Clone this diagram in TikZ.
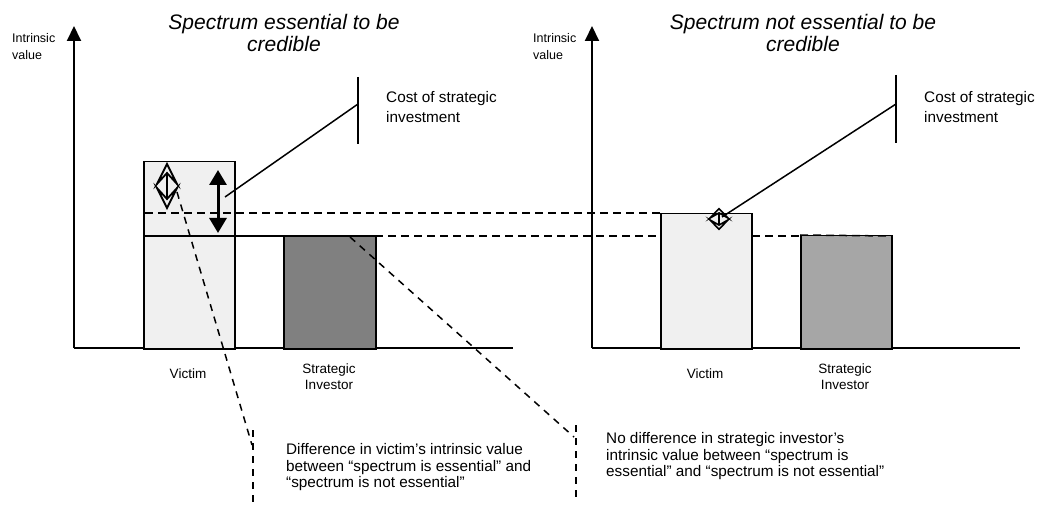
\documentclass[tikz,border=0pt]{standalone}
\usepackage{fontspec}
\setmainfont{Liberation Sans}
\usetikzlibrary{arrows.meta}
\definecolor{lightbar}{HTML}{F0F0F0}
\definecolor{darkbar}{HTML}{808080}
\definecolor{midbar}{HTML}{A6A6A6}
\begin{document}
\begin{tikzpicture}[x=1pt,y=-1pt,
  axisline/.style={line width=2pt,-{Triangle[length=15pt,width=14pt]}},
  barbox/.style={draw=black,line width=1.5pt},
  dashline/.style={line width=1.5pt,dash pattern=on 8pt off 5pt},
  notedash/.style={line width=1.5pt,dash pattern=on 7pt off 6pt},
  leader/.style={line width=1.5pt},
  openarrow/.style={line width=1.8pt,line join=miter},
  body/.style={inner sep=0pt,align=left,font=\fontsize{15.3}{16.5}\selectfont},
  costtext/.style={inner sep=0pt,align=left,font=\fontsize{15.3}{20}\selectfont},
  titletext/.style={inner sep=0pt,align=center,font=\fontsize{21}{22}\selectfont\itshape},
  axlabel/.style={inner sep=0pt,align=center,font=\fontsize{13.5}{16}\selectfont},
  ylabel/.style={inner sep=0pt,align=left,font=\fontsize{12.5}{17}\selectfont}
]
\useasboundingbox (0,0) rectangle (1042,505);
% ---------- left panel ----------
\coordinate (LO) at (74,348);
\coordinate (LT) at (74,26);
\coordinate (LX) at (513,348);
\draw[line width=2pt] (LO) -- (LX);
\draw[axisline] (LO) -- (LT);
\node[ylabel,anchor=north west] (lyl) at (12,33.5) {Intrinsic\\value};
\node[titletext,anchor=north] (ltitle) at (284,14.3) {Spectrum essential to be\\credible};
\node[barbox,fill=lightbar,minimum width=91pt,minimum height=187pt,anchor=north west,inner sep=0pt] (lvic) at (143,161) {};
\node[barbox,fill=darkbar,minimum width=92pt,minimum height=112pt,anchor=north west,inner sep=0pt] (lstr) at (283,236) {};
\coordinate (lsolidA) at (143,236);
\draw[line width=1.5pt] (lsolidA) -- (lstr.north east);
\coordinate (dA1) at (145,213);
\coordinate (dA2) at (660,213);
\draw[dashline] (dA1) -- (dA2);
\coordinate (dB1) at (375,236);
\coordinate (dB2) at (891,236);
\draw[dashline] (dB1) -- (dB2);
% open double arrow (outlined chevron heads)
\begin{scope}[shift={(167,186)}]
  \draw[openarrow] (0,-13) -- (10,-2) -- (0,-22) -- (-10,-2) -- cycle;
  \draw[openarrow] (0,13) -- (10,2) -- (0,22) -- (-10,2) -- cycle;
  \draw[line width=1.5pt] (0,-13) -- (0,13);
\end{scope}
% filled double arrow
\coordinate (fa1) at (218,170);
\coordinate (fa2) at (218,233);
\draw[line width=3pt,{Triangle[length=15pt,width=17pt]}-{Triangle[length=15pt,width=17pt]}] (fa1) -- (fa2);
% cost leader
\coordinate (lc1) at (225,197);
\coordinate (lc2) at (358,104);
\coordinate (lv1) at (358,77);
\coordinate (lv2) at (358,144);
\draw[leader] (lc1) -- (lc2);
\draw[line width=2pt] (lv1) -- (lv2);
\node[costtext,anchor=north west] (lcost) at (386,91.5) {Cost of strategic\\investment};
\node[axlabel] (lvl) at (188,374) {Victim};
\node[axlabel,anchor=north] (lsl) at (329,364) {Strategic\\Investor};
% ---------- right panel ----------
\coordinate (RO) at (592,348);
\coordinate (RT) at (592,26);
\coordinate (RX) at (1020,348);
\draw[line width=2pt] (RO) -- (RX);
\draw[axisline] (RO) -- (RT);
\node[ylabel,anchor=north west] (ryl) at (533,33.5) {Intrinsic\\value};
\node[titletext,anchor=north] (rtitle) at (803,14.3) {Spectrum not essential to be\\credible};
\node[barbox,fill=lightbar,minimum width=91pt,minimum height=135pt,anchor=north west,inner sep=0pt] (rvic) at (660,213) {};
\node[barbox,fill=midbar,minimum width=91pt,minimum height=113pt,anchor=north west,inner sep=0pt] (rstr) at (800,235) {};
\draw[dashline] (dA2) -- (rvic.north west);
\draw[dashline] (rstr.north west) -- (dB2);
% small open double arrow (X-like)
\begin{scope}[shift={(719,219)},xscale=0.9,yscale=0.47]
  \draw[openarrow,line width=1.6pt] (0,-13) -- (10,-2) -- (0,-22) -- (-10,-2) -- cycle;
  \draw[openarrow,line width=1.6pt] (0,13) -- (10,2) -- (0,22) -- (-10,2) -- cycle;
  \draw[line width=1.4pt] (0,-13) -- (0,13);
\end{scope}
\coordinate (rc1) at (722,217);
\coordinate (rc2) at (896,104);
\coordinate (rv1) at (896,75);
\coordinate (rv2) at (896,143);
\draw[leader] (rc1) -- (rc2);
\draw[line width=2pt] (rv1) -- (rv2);
\node[costtext,anchor=north west] (rcost) at (924,91.5) {Cost of strategic\\investment};
\node[axlabel] (rvl) at (705,374) {Victim};
\node[axlabel,anchor=north] (rsl) at (845,364) {Strategic\\Investor};
% ---------- annotations ----------
\coordinate (n1a) at (177,192);
\coordinate (n1b) at (252,445);
\coordinate (n1t) at (253,430);
\coordinate (n1u) at (253,505);
\draw[notedash] (n1a) -- (n1b);
\draw[notedash] (n1t) -- (n1u);
\node[body,anchor=north west] (note1) at (286,443.5) {Difference in victim’s intrinsic value\\between “spectrum is essential” and\\“spectrum is not essential”};
\coordinate (n2a) at (350,237);
\coordinate (n2b) at (574,437);
\coordinate (n2t) at (576,425);
\coordinate (n2u) at (576,500);
\draw[notedash] (n2a) -- (n2b);
\draw[notedash] (n2t) -- (n2u);
\node[body,anchor=north west] (note2) at (606,432.5) {No difference in strategic investor’s\\intrinsic value between “spectrum is\\essential” and “spectrum is not essential”};
\end{tikzpicture}
\end{document}
